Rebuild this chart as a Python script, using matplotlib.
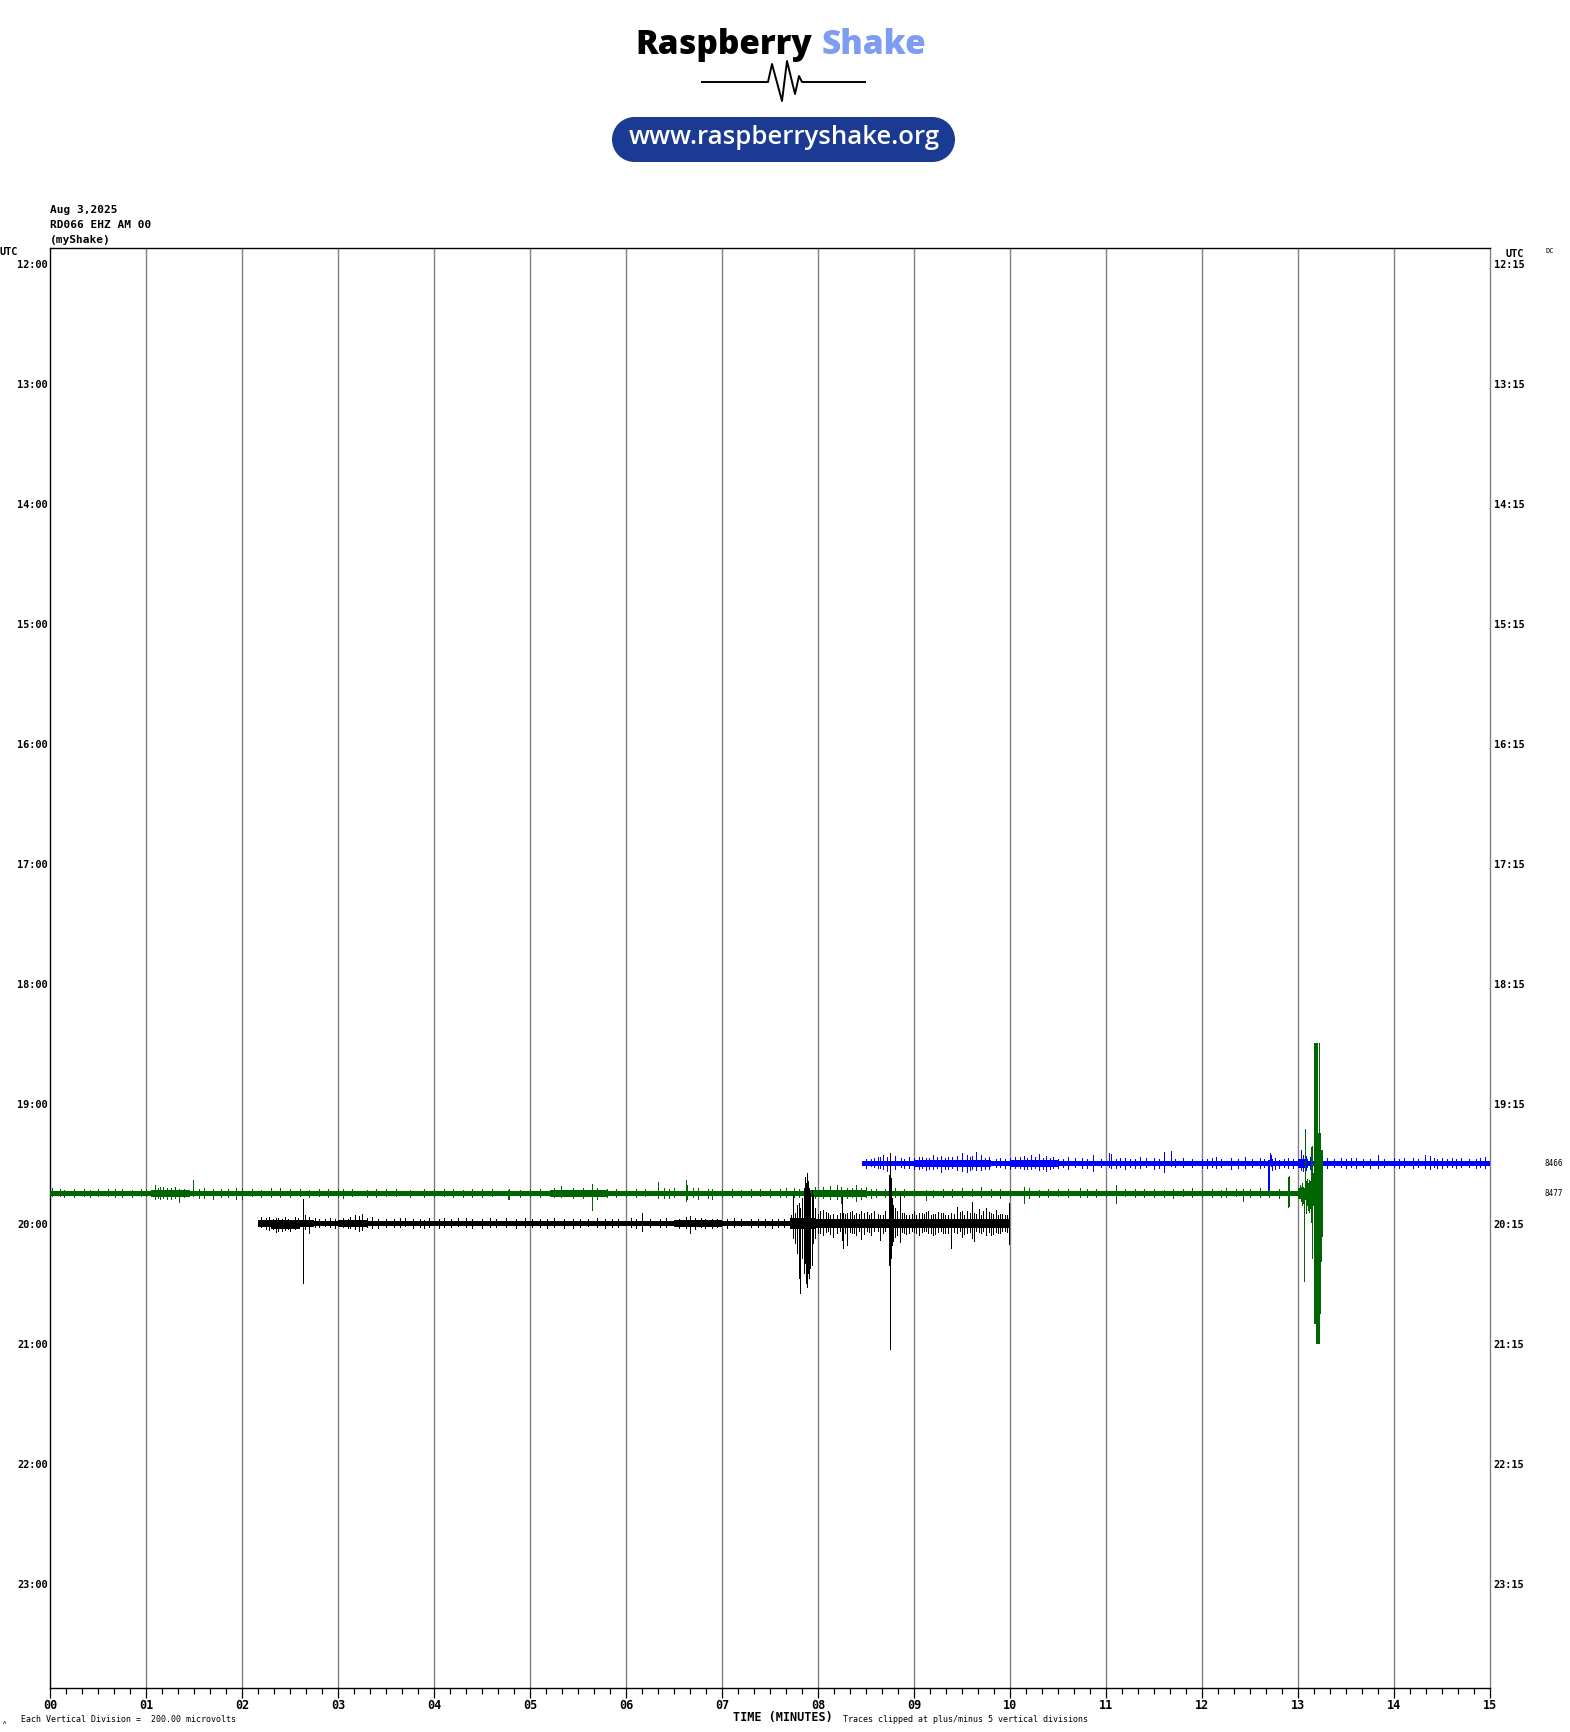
import numpy as np
import matplotlib
matplotlib.use("Agg")
import matplotlib.pyplot as plt
import matplotlib.transforms as mtransforms
from matplotlib.patches import FancyBboxPatch, Ellipse
from matplotlib.lines import Line2D

# ------------------------------------------------------------------ data
HEADER_LINES = ["Aug 3,2025", "RD066 EHZ AM 00", "(myShake)"]
LEFT_HOURS = ["12:00", "13:00", "14:00", "15:00", "16:00", "17:00",
              "18:00", "19:00", "20:00", "21:00", "22:00", "23:00"]
RIGHT_HOURS = ["12:15", "13:15", "14:15", "15:15", "16:15", "17:15",
               "18:15", "19:15", "20:15", "21:15", "22:15", "23:15"]
MINUTE_LABELS = ["00", "01", "02", "03", "04", "05", "06", "07",
                 "08", "09", "10", "11", "12", "13", "14", "15"]
N_ROWS = 48                 # 15-minute lines, 12:00 .. 23:45 UTC
UV_PER_DIVISION = 200.0
CLIP_DIVISIONS = 5.0
MEAN_ROWS = [30, 31]
MEAN_LABELS = ["8466", "8477"]

# --- trace 20:00 (black): background band segments (minutes, microvolts)
BLACK_ROW, BLACK_END = 32, 10.0
BLACK_SEG_T = [2.17, 2.30, 2.60, 2.75, 3.00, 3.30, 6.50, 7.00, 7.71, 7.97, 8.75, 8.85]
BLACK_SEG_UP = [20, 20, 20, 13, 20, 13, 20, 13, 33, 27, 27, 27]
BLACK_SEG_DN = [20, 33, 20, 13, 20, 13, 20, 13, 33, 27, 27, 27]
# events / larger excursions
BLACK_SPK_T = [2.20, 2.35, 2.42, 2.50, 2.55, 2.64, 2.66, 2.70, 2.76, 2.86,
               3.05, 3.12, 3.18, 3.22, 3.25, 3.50, 3.70, 3.90, 4.10, 4.25,
               4.50, 4.75, 5.10, 5.35, 5.60, 5.85, 6.17, 6.35, 6.62, 6.67,
               6.72, 6.90, 7.20, 7.45,
               7.72, 7.74, 7.76, 7.78, 7.80, 7.81, 7.83, 7.85, 7.86, 7.875,
               7.885, 7.896, 7.906, 7.917, 7.94, 7.95, 7.97,
               8.02, 8.05, 8.10, 8.16, 8.20, 8.25, 8.26, 8.30, 8.35, 8.40,
               8.45, 8.51, 8.55, 8.58, 8.65, 8.70,
               8.735, 8.742, 8.753, 8.763, 8.772, 8.78, 8.80, 8.82, 8.854,
               8.90, 8.95, 9.00, 9.05, 9.10, 9.15, 9.20, 9.25, 9.30, 9.35,
               9.39, 9.45, 9.50, 9.55, 9.60, 9.62, 9.68, 9.72, 9.75, 9.80,
               9.85, 9.90, 9.95, 9.99]
BLACK_SPK_UP = [40, 33, 27, 20, 40, 160, 53, 40, 33, 27,
                33, 40, 53, 47, 60, 27, 33, 20, 33, 33,
                27, 33, 27, 27, 27, 27, 67, 27, 40, 47,
                33, 27, 27, 27,
                53, 187, 67, 120, 133, 100, 167, 233, 307, 267,
                333, 280, 233, 200, 220, 187, 100,
                80, 87, 67, 60, 53, 173, 67, 67, 80, 67,
                80, 73, 67, 80, 53, 80,
                133, 320, 467, 300, 167, 120, 100, 80, 200,
                67, 53, 80, 67, 60, 80, 60, 73, 67, 53,
                67, 107, 80, 80, 140, 67, 93, 80, 100, 67,
                87, 60, 53, 133]
BLACK_SPK_DN = [27, 60, 53, 53, 40, 400, 40, 67, 27, 20,
                27, 33, 40, 53, 47, 27, 20, 33, 27, 20,
                33, 27, 27, 33, 20, 27, 53, 27, 33, 67,
                40, 33, 20, 27,
                33, 100, 133, 200, 367, 467, 233, 333, 267, 400,
                427, 333, 367, 300, 280, 133, 100,
                67, 80, 53, 93, 67, 113, 167, 147, 67, 80,
                107, 53, 80, 53, 113, 53,
                100, 280, 840, 233, 147, 120, 93, 80, 127,
                67, 67, 60, 80, 53, 67, 80, 60, 67, 67,
                167, 67, 93, 67, 100, 120, 60, 53, 80, 80,
                60, 67, 53, 140]
# small background noise excursions
BLACK_NOISE_T = [2.25, 2.28, 2.32, 2.38, 2.45, 2.48, 2.58, 2.80, 2.92, 2.97,
                 3.10, 3.30, 3.35, 3.42, 3.58, 3.65, 3.78, 3.85, 3.95, 4.05,
                 4.18, 4.33, 4.40, 4.58, 4.65, 4.85, 4.95, 5.02, 5.18, 5.25,
                 5.45, 5.52, 5.70, 5.78, 5.92, 6.05, 6.10, 6.25, 6.42, 6.55,
                 6.78, 6.82, 6.95, 7.05, 7.12, 7.30, 7.38, 7.52, 7.58, 7.65,
                 8.00, 8.08, 8.13, 8.23, 8.28, 8.33, 8.38, 8.43, 8.48, 8.53,
                 8.62, 8.68, 8.88, 8.92, 8.98, 9.02, 9.08, 9.12, 9.18, 9.22,
                 9.28, 9.32, 9.42, 9.48, 9.52, 9.58, 9.65, 9.70, 9.78, 9.82,
                 9.88, 9.92, 9.97]
BLACK_NOISE_UP = [33, 40, 27, 33, 40, 27, 33, 27, 33, 27,
                  27, 33, 40, 27, 27, 33, 27, 27, 33, 27,
                  27, 33, 27, 33, 27, 27, 33, 27, 27, 33,
                  27, 27, 33, 27, 27, 33, 27, 27, 33, 27,
                  33, 27, 27, 27, 33, 27, 27, 27, 27, 27,
                  60, 73, 53, 67, 60, 73, 53, 60, 67, 53,
                  60, 53, 67, 53, 60, 53, 67, 73, 53, 60,
                  67, 53, 60, 73, 53, 67, 60, 53, 73, 60,
                  53, 60, 53]
BLACK_NOISE_DN = [40, 47, 40, 53, 47, 40, 33, 27, 27, 33,
                  33, 27, 33, 33, 27, 27, 33, 27, 27, 33,
                  27, 27, 33, 27, 27, 33, 27, 27, 33, 27,
                  33, 27, 27, 33, 27, 27, 33, 27, 27, 33,
                  27, 33, 27, 33, 27, 27, 27, 33, 27, 27,
                  67, 60, 73, 53, 67, 60, 67, 53, 73, 60,
                  53, 67, 60, 73, 53, 67, 60, 53, 67, 73,
                  53, 67, 60, 53, 73, 60, 53, 67, 60, 73,
                  67, 53, 60]

# --- trace 19:30 (blue)
BLUE_ROW, BLUE_END = 30, 15.0
BLUE_SEG_T = [8.46, 9.00, 9.80, 10.00, 10.50, 13.00, 13.10]
BLUE_SEG_UP = [13, 20, 13, 20, 13, 27, 13]
BLUE_SEG_DN = [13, 20, 13, 20, 13, 27, 13]
BLUE_SPK_T = [8.55, 8.62, 8.68, 8.72, 8.80, 8.86, 8.95, 9.05, 9.12, 9.20,
              9.28, 9.35, 9.45, 9.50, 9.55, 9.60, 9.65, 9.70, 9.78, 9.90,
              10.05, 10.15, 10.22, 10.30, 10.38, 10.45, 10.60, 10.75, 10.86, 11.03,
              11.05, 11.20, 11.35, 11.50, 11.60, 11.68, 11.80, 12.00, 12.15, 12.30,
              12.45, 12.60, 12.684, 12.694, 12.705, 12.715, 12.73, 12.76, 12.80, 12.90,
              13.03, 13.05, 13.08, 13.12, 13.20, 13.30, 13.45, 13.60, 13.83, 14.00,
              14.20, 14.32, 14.38, 14.50, 14.70, 14.85, 14.95]
BLUE_SPK_UP = [27, 40, 53, 40, 47, 33, 40, 40, 33, 53,
               47, 40, 47, 67, 53, 47, 73, 53, 40, 33,
               40, 47, 53, 60, 47, 40, 40, 33, 53, 67,
               60, 33, 40, 33, 73, 80, 33, 27, 40, 33,
               40, 33, 20, 20, 67, 53, 27, 33, 20, 33,
               87, 53, 47, 40, 33, 33, 33, 33, 53, 33,
               33, 53, 47, 33, 33, 27, 40]
BLUE_SPK_DN = [20, 33, 40, 53, 40, 27, 33, 40, 47, 40,
               60, 40, 47, 53, 60, 40, 47, 47, 40, 27,
               33, 40, 40, 47, 53, 33, 40, 33, 53, 27,
               33, 40, 33, 40, 60, 20, 27, 33, 33, 40,
               33, 33, 180, 180, 13, 20, 47, 40, 33, 33,
               47, 53, 47, 40, 33, 33, 27, 33, 33, 27,
               33, 33, 40, 33, 27, 33, 33]
BLUE_NOISE_T = [8.50, 8.58, 8.65, 8.75, 8.90, 9.00, 9.08, 9.16, 9.24, 9.32,
                9.40, 9.58, 9.74, 9.85, 9.95, 10.00, 10.10, 10.18, 10.26, 10.34,
                10.42, 10.50, 10.55, 10.68, 10.80, 10.95, 11.10, 11.15, 11.25, 11.30,
                11.42, 11.55, 11.72, 11.90, 12.05, 12.10, 12.20, 12.38, 12.52, 12.65,
                12.85, 12.95, 13.15, 13.25, 13.38, 13.50, 13.55, 13.68, 13.75, 13.90,
                14.05, 14.10, 14.25, 14.42, 14.45, 14.55, 14.60, 14.65, 14.78, 14.90]
BLUE_NOISE_UP = [27, 33, 40, 33, 27, 33, 40, 33, 40, 33,
                 40, 40, 33, 27, 27, 33, 40, 33, 40, 33,
                 33, 27, 27, 33, 27, 27, 27, 33, 27, 27,
                 33, 27, 27, 27, 27, 33, 27, 27, 27, 27,
                 27, 27, 33, 27, 27, 27, 33, 27, 27, 27,
                 27, 33, 27, 33, 27, 27, 33, 27, 27, 33]
BLUE_NOISE_DN = [33, 27, 33, 40, 33, 40, 33, 40, 33, 40,
                 33, 47, 40, 27, 33, 40, 33, 40, 33, 40,
                 40, 33, 27, 27, 33, 27, 33, 27, 27, 33,
                 27, 33, 27, 27, 33, 27, 27, 33, 27, 27,
                 27, 33, 27, 33, 27, 33, 27, 27, 33, 27,
                 33, 27, 27, 27, 33, 27, 27, 33, 27, 27]

# --- trace 19:45 (green)
GREEN_ROW, GREEN_END = 31, 13.26
GREEN_SEG_T = [0.00, 1.05, 1.45, 5.20, 5.80, 7.90, 8.50, 13.00]
GREEN_SEG_UP = [13, 20, 13, 20, 13, 20, 13, 33]
GREEN_SEG_DN = [13, 20, 13, 20, 13, 20, 13, 33]
GREEN_SPK_T = [0.02, 0.25, 0.50, 0.75, 0.95, 1.09, 1.15, 1.22, 1.30, 1.34,
               1.49, 1.60, 1.70, 1.85, 1.94, 2.00, 2.30, 2.40, 2.80, 3.00,
               3.05, 3.50, 3.90, 4.20, 4.50, 4.77, 4.78, 5.00, 5.25, 5.32,
               5.45, 5.65, 5.70, 5.90, 6.10, 6.33, 6.40, 6.50, 6.62, 6.64,
               6.75, 6.90, 7.10, 7.30, 7.50, 7.67, 7.75, 7.90, 7.97, 8.05,
               8.12, 8.20, 8.24, 8.30, 8.40, 8.45, 8.50, 8.60, 8.80, 8.90,
               9.13, 9.30, 9.50, 9.70, 9.90, 10.15, 10.20, 10.40, 10.60, 10.73,
               10.90, 11.10, 11.30, 11.50, 11.70, 11.90, 12.10, 12.25, 12.43, 12.60,
               12.80, 12.90, 12.91,
               13.01, 13.02, 13.03, 13.04, 13.05, 13.06, 13.07, 13.08, 13.09, 13.10,
               13.11, 13.12, 13.135, 13.146, 13.156, 13.167, 13.177, 13.188, 13.198, 13.208,
               13.219, 13.229, 13.24, 13.25]
GREEN_SPK_UP = [33, 27, 27, 27, 27, 53, 40, 33, 40, 27,
                87, 33, 27, 27, 33, 33, 33, 33, 27, 27,
                27, 27, 27, 27, 27, 20, 27, 27, 33, 47,
                33, 60, 33, 27, 27, 73, 33, 33, 87, 53,
                33, 27, 27, 27, 27, 33, 33, 33, 40, 40,
                47, 53, 40, 33, 53, 33, 40, 27, 33, 27,
                20, 27, 33, 40, 27, 40, 33, 27, 27, 33,
                27, 53, 27, 27, 27, 33, 27, 33, 27, 33,
                27, 107, 113,
                27, 53, 40, 67, 40, 27, 427, 80, 93, 67,
                87, 80, 307, 313, 133, 1200, 1200, 1200, 1200, 400,
                1200, 400, 287, 287]
GREEN_SPK_DN = [20, 27, 20, 27, 20, 40, 40, 40, 33, 60,
                20, 33, 40, 27, 40, 40, 27, 27, 20, 27,
                33, 20, 27, 27, 27, 40, 40, 27, 27, 27,
                33, 113, 40, 27, 27, 33, 33, 27, 53, 40,
                40, 40, 27, 27, 27, 27, 27, 33, 33, 33,
                40, 40, 67, 33, 53, 40, 27, 27, 27, 27,
                47, 27, 27, 27, 33, 67, 33, 27, 27, 27,
                27, 67, 27, 27, 33, 27, 27, 27, 53, 27,
                33, 93, 87,
                33, 27, 53, 80, 67, 587, 40, 133, 80, 113,
                127, 100, 193, 433, 80, 867, 867, 1200, 1200, 1200,
                1200, 800, 453, 287]
GREEN_NOISE_T = [0.10, 0.15, 0.35, 0.42, 0.60, 0.68, 0.85, 1.00, 1.12, 1.18,
                 1.26, 1.40, 1.55, 1.78, 2.10, 2.20, 2.50, 2.60, 2.70, 2.90,
                 3.15, 3.30, 3.40, 3.60, 3.75, 4.00, 4.10, 4.30, 4.40, 4.60,
                 4.90, 5.10, 5.55, 5.80, 6.00, 6.20, 6.45, 6.70, 6.85, 7.00,
                 7.20, 7.40, 7.60, 7.80, 8.35, 8.55, 8.70, 9.00, 9.20, 9.40,
                 9.60, 9.80, 10.00, 10.30, 10.50, 10.80, 11.00, 11.20, 11.40, 11.60,
                 11.80, 12.00, 12.20, 12.35, 12.50, 12.70]
GREEN_NOISE_UP = [27, 20, 27, 20, 27, 27, 20, 27, 33, 40,
                  33, 27, 27, 27, 27, 20, 27, 27, 20, 27,
                  27, 20, 27, 27, 20, 27, 27, 20, 27, 27,
                  20, 27, 33, 27, 20, 27, 27, 33, 27, 27,
                  20, 27, 27, 27, 33, 27, 27, 27, 20, 27,
                  27, 27, 27, 20, 27, 27, 20, 27, 27, 20,
                  27, 27, 20, 27, 27, 27]
GREEN_NOISE_DN = [20, 27, 20, 27, 20, 27, 27, 20, 33, 33,
                  40, 27, 33, 27, 20, 27, 27, 20, 27, 27,
                  20, 27, 27, 20, 27, 27, 20, 27, 27, 20,
                  27, 27, 33, 27, 27, 20, 33, 27, 33, 27,
                  27, 20, 27, 27, 27, 33, 27, 20, 27, 27,
                  20, 27, 27, 27, 20, 27, 27, 20, 27, 27,
                  20, 27, 27, 20, 27, 27]

TRACES = [
    (BLUE_ROW, BLUE_END, BLUE_SEG_T, BLUE_SEG_UP, BLUE_SEG_DN,
     [BLUE_SPK_T, BLUE_NOISE_T], [BLUE_SPK_UP, BLUE_NOISE_UP], [BLUE_SPK_DN, BLUE_NOISE_DN],
     "#0000ff"),
    (GREEN_ROW, GREEN_END, GREEN_SEG_T, GREEN_SEG_UP, GREEN_SEG_DN,
     [GREEN_SPK_T, GREEN_NOISE_T], [GREEN_SPK_UP, GREEN_NOISE_UP], [GREEN_SPK_DN, GREEN_NOISE_DN],
     "#006400"),
    (BLACK_ROW, BLACK_END, BLACK_SEG_T, BLACK_SEG_UP, BLACK_SEG_DN,
     [BLACK_SPK_T, BLACK_NOISE_T], [BLACK_SPK_UP, BLACK_NOISE_UP], [BLACK_SPK_DN, BLACK_NOISE_DN],
     "#000000"),
]

# ------------------------------------------------------------------ figure
W, H, DPI = 1570, 1732, 100
fig = plt.figure(figsize=(W / DPI, H / DPI), dpi=DPI)
fig.patch.set_facecolor("white")
MONO = "DejaVu Sans Mono"


def fx(x):
    return x / W


def fy(y):
    return 1 - y / H


AX_L, AX_R, AX_T, AX_B = 50, 1490, 248, 1688
ax = fig.add_axes([fx(AX_L), fy(AX_B), (AX_R - AX_L) / W, (AX_B - AX_T) / H])
ax.set_xlim(0, 15)
ax.set_ylim(-(N_ROWS - 0.5), 0.5)

# minute grid
for m in range(1, len(MINUTE_LABELS) - 1):
    ax.axvline(m, color="#808080", lw=1.0, zorder=1)

px_per_min = (AX_R - AX_L) / 15.0
LW = 72.0 / DPI  # one pixel

for (row, t_end, seg_t, seg_up, seg_dn, spk_ts, spk_ups, spk_dns, col) in TRACES:
    seg_t = np.asarray(seg_t)
    cols = np.arange(seg_t[0], t_end, 1.0 / px_per_min)
    idx = np.searchsorted(seg_t, cols, side="right") - 1
    up = np.asarray(seg_up, float)[idx] / UV_PER_DIVISION
    dn = np.asarray(seg_dn, float)[idx] / UV_PER_DIVISION
    base = -row
    ax.vlines(cols, base - np.clip(dn, 0, CLIP_DIVISIONS), base + np.clip(up, 0, CLIP_DIVISIONS),
              colors=col, lw=LW, antialiased=False, zorder=3)
    for spk_t, spk_up, spk_dn in zip(spk_ts, spk_ups, spk_dns):
        su = np.clip(np.asarray(spk_up, float) / UV_PER_DIVISION, 0, CLIP_DIVISIONS)
        sd = np.clip(np.asarray(spk_dn, float) / UV_PER_DIVISION, 0, CLIP_DIVISIONS)
        ax.vlines(spk_t, base - sd, base + su, colors=col, lw=LW,
                  antialiased=False, zorder=3)

# spines
for s in ["left", "top", "bottom"]:
    ax.spines[s].set_color("black")
    ax.spines[s].set_linewidth(1.0)
ax.spines["right"].set_color("#808080")
ax.spines["right"].set_linewidth(1.0)

# x ticks
ax.set_xticks(range(len(MINUTE_LABELS)))
ax.set_xticklabels(MINUTE_LABELS, fontfamily=MONO, fontweight="bold", fontsize=8.5)
ax.set_xticks(np.arange(0, 15 + 1e-9, 1 / 6), minor=True)
ax.tick_params(axis="x", which="major", direction="out", length=7.2, width=0.9, pad=0.8)
ax.tick_params(axis="x", which="minor", direction="out", length=4.2, width=0.9)
ax.set_yticks([])

# hour labels
btr = mtransforms.blended_transform_factory(ax.transAxes, ax.transData)
for i, lab in enumerate(LEFT_HOURS):
    ax.text(-0.0015, -4 * i - 0.07, lab, transform=btr, ha="right", va="center",
            fontfamily=MONO, fontweight="bold", fontsize=7.4)
for i, lab in enumerate(RIGHT_HOURS):
    ax.text(1.0025, -4 * i - 0.07, lab, transform=btr, ha="left", va="center",
            fontfamily=MONO, fontweight="bold", fontsize=7.4)
for r, lab in zip(MEAN_ROWS, MEAN_LABELS):
    ax.text(1.038, -r, lab, transform=btr, ha="left", va="center",
            fontfamily=MONO, fontsize=5.5)

fig.text(fx(0), fy(252), "UTC", ha="left", va="center", fontfamily=MONO,
         fontweight="bold", fontsize=7.4)
fig.text(fx(1505), fy(254), "UTC", ha="left", va="center", fontfamily=MONO,
         fontweight="bold", fontsize=7.4)
fig.text(fx(1545), fy(251), "DC", ha="left", va="center", fontfamily=MONO, fontsize=5)

for i, line in enumerate(HEADER_LINES):
    fig.text(fx(50), fy(210 + 15 * i), line, ha="left", va="center",
             fontfamily=MONO, fontweight="bold", fontsize=8)

fig.text(fx(733), fy(1718), "TIME (MINUTES)", ha="left", va="center",
         fontfamily=MONO, fontweight="bold", fontsize=8.5)
fig.text(fx(843), fy(1719), "Traces clipped at plus/minus 5 vertical divisions",
         ha="left", va="center", fontfamily=MONO, fontsize=6)
fig.text(fx(21), fy(1719), "Each Vertical Division =  200.00 microvolts",
         ha="left", va="center", fontfamily=MONO, fontsize=6)
fig.text(fx(3), fy(1722), "\u028c", ha="left", va="center", fontfamily=MONO, fontsize=4)

# ------------------------------------------------------------------ logo
fig.text(fx(812), fy(54), "Raspberry", ha="right", va="baseline",
         fontfamily="Open Sans", fontweight="heavy", fontsize=24, color="black")
fig.text(fx(822), fy(54), "Shake", ha="left", va="baseline",
         fontfamily="Open Sans", fontweight="heavy", fontsize=24, color="#7d9cf2")
sq_x = [702, 768, 772, 782, 787, 795, 799, 802, 865]
sq_y = [82, 82, 64, 101, 61, 94, 76, 82, 82]
fig.add_artist(Line2D([fx(v) for v in sq_x], [fy(v) for v in sq_y],
                      color="black", lw=1.4, transform=fig.transFigure))
BOX_COL = "#1b3a93"
fig.add_artist(FancyBboxPatch((fx(634), fy(162)), (955 - 612 - 44) / W, 45 / H,
                              boxstyle="square,pad=0", transform=fig.transFigure,
                              facecolor=BOX_COL, edgecolor="none"))
for cx in (612 + 22.5, 955 - 22.5):
    fig.add_artist(Ellipse((fx(cx), fy(139.5)), 45 / W, 45 / H,
                           transform=fig.transFigure, facecolor=BOX_COL, edgecolor="none"))
fig.text(fx(784), fy(138), "www.raspberryshake.org", ha="center", va="center",
         fontfamily="Open Sans", fontweight="semibold", fontsize=18.5, color="white")

fig.savefig("out.png", dpi=DPI, facecolor="white")
